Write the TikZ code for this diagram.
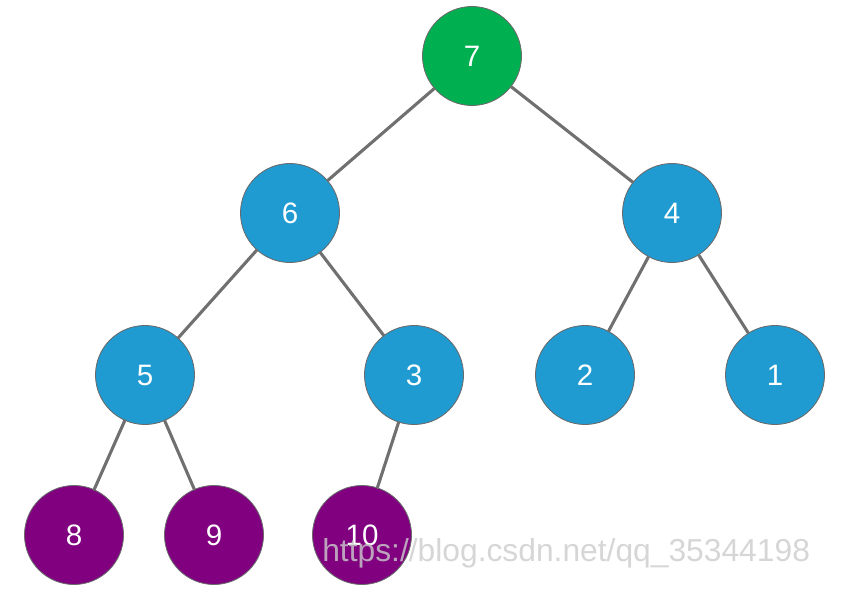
\documentclass[tikz,border=0pt]{standalone}
\usepackage{fontspec}
\setmainfont{Liberation Sans}
\usepackage{tikz}

\definecolor{rootgreen}{HTML}{00B050}
\definecolor{heapblue}{HTML}{1F9BD1}
\definecolor{leafpurple}{HTML}{800080}
\definecolor{rimgray}{HTML}{6A6A6A}
\definecolor{edgegray}{HTML}{707070}

\begin{document}
\begin{tikzpicture}[x=0.025cm,y=-0.025cm,line cap=round]
	\tikzstyle{key}=[circle,draw=rimgray,line width=0.6pt,minimum size=99*0.025cm,inner sep=0pt,text=white,font=\fontsize{21}{21}\selectfont];
	\tikzstyle{rootkey}=[key,fill=rootgreen];
	\tikzstyle{midkey}=[key,fill=heapblue];
	\tikzstyle{leafkey}=[key,fill=leafpurple];
	\tikzstyle{link}=[draw=edgegray,line width=2.2pt];

	\useasboundingbox (0,0) rectangle (841,589);

	% nodes
	\node[rootkey] (n7) at (472,56) {7};
	\node[midkey] (n6) at (290,213) {6};
	\node[midkey] (n4) at (672,213) {4};
	\node[midkey] (n5) at (145,375) {5};
	\node[midkey] (n3) at (414,375) {3};
	\node[midkey] (n2) at (585,375) {2};
	\node[midkey] (n1) at (775,375) {1};
	\node[leafkey] (n8) at (74,535) {8};
	\node[leafkey] (n9) at (214,535) {9};
	\node[leafkey] (n10) at (362,535) {10};

	% edges
	\draw[link] (n7) -- (n6);
	\draw[link] (n7) -- (n4);
	\draw[link] (n6) -- (n5);
	\draw[link] (n6) -- (n3);
	\draw[link] (n4) -- (n2);
	\draw[link] (n4) -- (n1);
	\draw[link] (n5) -- (n8);
	\draw[link] (n5) -- (n9);
	\draw[link] (n3) -- (n10);

	% watermark
	\node[anchor=base west,inner sep=0pt,text=gray!40,opacity=0.8,font=\fontsize{22.6}{22.6}\selectfont] (mark) at (322,561) {https://blog.csdn.net/qq\_35344198};
\end{tikzpicture}
\end{document}
